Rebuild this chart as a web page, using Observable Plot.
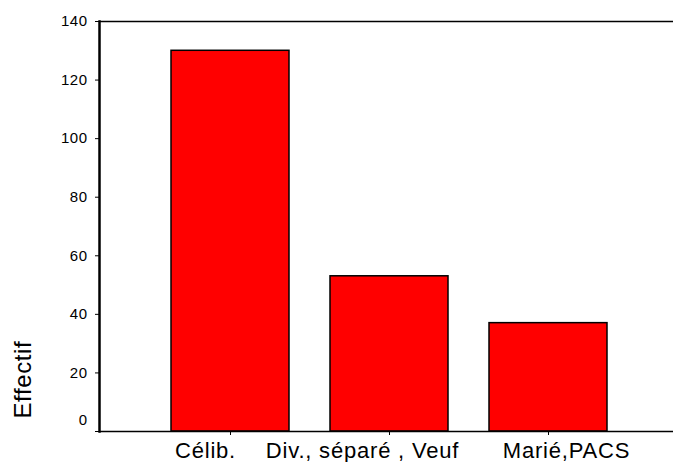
<!DOCTYPE html>
<html>
<head>
<meta charset="utf-8">
<script src="https://cdn.jsdelivr.net/npm/d3@7"></script>
<script src="https://cdn.jsdelivr.net/npm/@observablehq/plot@0.6"></script>
<style>
  html, body { margin: 0; padding: 0; background: #ffffff; }
  #chart { width: 673px; height: 462px; overflow: hidden; }
  g[aria-label="x-axis tick label"] text { letter-spacing: 0.8px; }
  g[aria-label="y-axis tick label"] text { letter-spacing: 0.5px; }
  g[aria-label="text"] text { letter-spacing: 0.6px; }
</style>
</head>
<body>
<div id="chart"></div>
<script>
const categories = ["Célib.", "Div., séparé , Veuf", "Marié,PACS"];
const counts = [130, 53, 37];
const yTicks = [0, 20, 40, 60, 80, 100, 120, 140];
const yTitle = "Effectif";

const data = categories.map((c, i) => ({category: c, count: counts[i]}));

const font = "'Liberation Sans', Arial, sans-serif";

const plot = Plot.plot({
  width: 673,
  height: 462,
  marginLeft: 99,
  marginRight: 0,
  marginTop: 21,
  marginBottom: 31,
  style: {fontFamily: font, background: "#ffffff", color: "#000000", overflow: "visible"},
  x: {domain: categories, padding: 0.261, paddingOuter: 0.4355, align: 0.52, label: null},
  y: {domain: [0, 140], label: null},
  marks: [
    Plot.barY(data, {x: "category", y: "count", fill: "#ff0000", stroke: "#000000", strokeWidth: 1.5}),
    Plot.ruleY([0], {stroke: "#000000", strokeWidth: 1.5}),
    Plot.ruleY([140], {stroke: "#000000", strokeWidth: 1.5}),
    Plot.frame({anchor: "left", stroke: "#000000", strokeWidth: 2.5}),
    Plot.axisY(yTicks, {tickSize: 4, tickPadding: 8, fontSize: 15, label: null,
      tickFormat: d => d === 0 ? "" : String(d), stroke: "#000000"}),
    Plot.axisY([0], {tickSize: 0, tickPadding: 12, fontSize: 15, dy: -11, label: null}),
    Plot.axisX(categories, {tickSize: 4, tickFormat: () => "", label: null, stroke: "#000000"}),
    Plot.axisX([categories[0]], {tickSize: 0, tickPadding: 11, fontSize: 22, dx: -25, label: null}),
    Plot.axisX([categories[1]], {tickSize: 0, tickPadding: 11, fontSize: 22, dx: -27, label: null}),
    Plot.axisX([categories[2]], {tickSize: 0, tickPadding: 11, fontSize: 22, dx: 18, label: null}),
    Plot.text([yTitle], {text: d => d, frameAnchor: "bottom-left", rotate: -90, textAnchor: "start",
      lineAnchor: "middle", dx: -76, dy: -13, fontSize: 24, fill: "#000000"})
  ]
});

document.getElementById("chart").appendChild(plot);
</script>
</body>
</html>
